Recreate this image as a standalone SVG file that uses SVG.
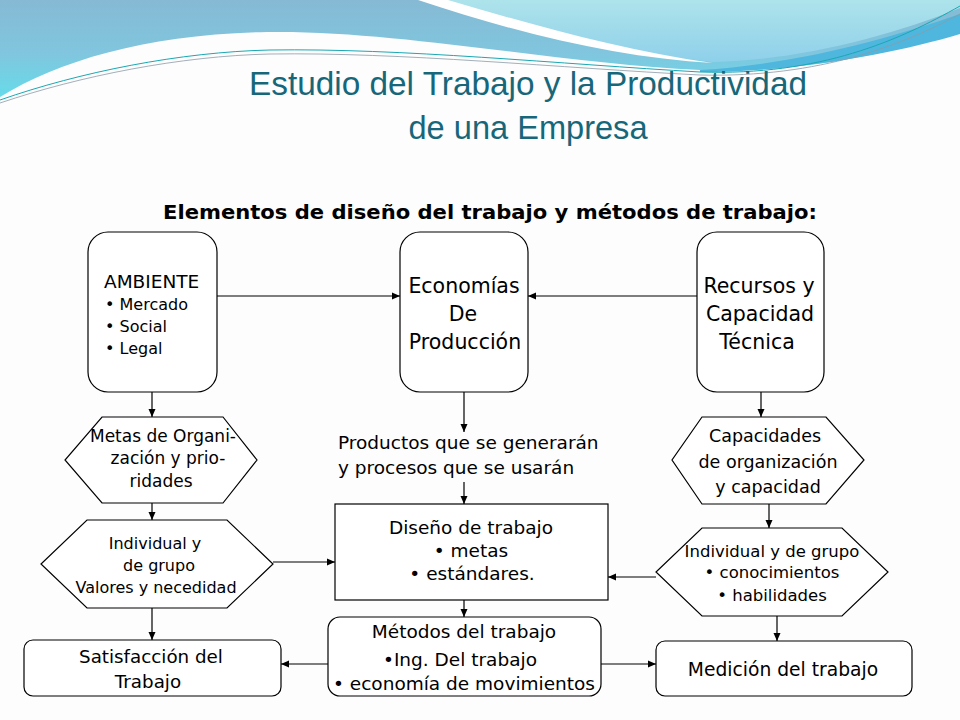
<svg xmlns="http://www.w3.org/2000/svg" width="960" height="720" viewBox="0 0 960 720">
<defs>
<style>
.box{fill:#fff;stroke:#000;stroke-width:1.2}
.ln{fill:none;stroke:#000;stroke-width:1.2;marker-end:url(#ah)}
text{font-family:"DejaVu Sans","Liberation Sans",sans-serif;fill:#000}
.c{text-anchor:middle}
.title{font-family:"Liberation Sans",Arial,sans-serif;font-size:33px;fill:#17677a;text-anchor:middle}
.sub{font-weight:bold;font-size:19px}
</style>
<marker id="ah" markerUnits="userSpaceOnUse" markerWidth="9" markerHeight="8" refX="8" refY="4" orient="auto">
<path d="M0,0.5 L8,4 L0,7.5 z" fill="#000"/>
</marker>
<linearGradient id="gBlue" x1="0" y1="0" x2="0" y2="1">
<stop offset="0" stop-color="#86b9d4"/>
<stop offset="0.55" stop-color="#80c6de"/>
<stop offset="1" stop-color="#66dbea"/>
</linearGradient>
<linearGradient id="gLight" x1="0" y1="0" x2="0" y2="1">
<stop offset="0" stop-color="#aee3ea"/>
<stop offset="1" stop-color="#8fd0ea"/>
</linearGradient>
</defs>
<rect width="960" height="720" fill="#fdfdfd"/>
<g id="background">
<path d="M0,0 H960 V30 C900,52 800,74 700,70 C560,64 400,30 267,32 C150,34 60,60 0,97 Z" fill="url(#gBlue)"/>
<path d="M440,0 H960 V8 C890,36 800,60 713,62 C620,52 530,26 440,0 Z" fill="url(#gLight)"/>
<path d="M418,0 C520,34 620,58 713,63 C620,50 530,24 448,0 Z" fill="#ffffff"/>
<path d="M700,70 C800,64 890,38 960,14 V34 C900,52 800,72 700,72 Z" fill="#4fb7de"/>
<path d="M0,100 C80,72 180,52 270,50 C400,48 560,64 700,72 C820,76 900,40 960,6" fill="none" stroke="#1aa8b4" stroke-width="1"/>
<path d="M0,103 C80,76 180,56 270,54 C400,52 560,68 700,75 C820,78 905,44 960,14" fill="none" stroke="#8a9aa8" stroke-width="0.8"/>
</g>
<g id="title">
<text class="title" x="528" y="95" textLength="558" lengthAdjust="spacingAndGlyphs">Estudio del Trabajo y la Productividad</text>
<text class="title" x="528" y="139" textLength="239" lengthAdjust="spacingAndGlyphs">de una Empresa</text>
<text class="sub" x="163" y="219" textLength="654" lengthAdjust="spacingAndGlyphs">Elementos de diseño del trabajo y métodos de trabajo:</text>
</g>
<g id="connectors">
<path class="ln" d="M217,296 H400"/>
<path class="ln" d="M697,296 H528"/>
<path class="ln" d="M152,392 V417"/>
<path class="ln" d="M152,503 V520"/>
<path class="ln" d="M152,608 V640"/>
<path class="ln" d="M273,562 H335"/>
<path class="ln" d="M464,392 V432"/>
<path class="ln" d="M464,482 V504"/>
<path class="ln" d="M464,600 V617"/>
<path class="ln" d="M328,664 H281"/>
<path class="ln" d="M601,664 H656"/>
<path class="ln" d="M761,392 V417"/>
<path class="ln" d="M769,504 V528"/>
<path class="ln" d="M656,577 H608"/>
<path class="ln" d="M777,616 V641"/>
</g>
<g id="ambiente">
<rect class="box" x="88" y="232" width="129" height="160" rx="20"/>
<text x="104" y="288" font-size="18.5">AMBIENTE</text>
<text x="105" y="310" font-size="16">• Mercado</text>
<text x="105" y="332" font-size="16">• Social</text>
<text x="105" y="354" font-size="16">• Legal</text>
</g>
<g id="economias">
<rect class="box" x="400" y="232" width="128" height="160" rx="20"/>
<text class="c" x="464" y="293" font-size="20.5">Economías</text>
<text class="c" x="463" y="321" font-size="20.5">De</text>
<text class="c" x="465" y="349" font-size="20.5">Producción</text>
</g>
<g id="recursos">
<rect class="box" x="697" y="232" width="127" height="160" rx="20"/>
<text class="c" x="759" y="293" font-size="20.5">Recursos y</text>
<text class="c" x="760" y="321" font-size="20.5">Capacidad</text>
<text class="c" x="757" y="349" font-size="20.5">Técnica</text>
</g>
<g id="metas">
<polygon class="box" points="102,417 223,417 257,460 223,503 102,503 65,460"/>
<text class="c" x="163" y="442" font-size="17">Metas de Organi-</text>
<text class="c" x="168" y="464" font-size="17">zación y prio-</text>
<text class="c" x="161" y="487" font-size="17">ridades</text>
</g>
<g id="productos">
<text x="338" y="449" font-size="18.5">Productos que se generarán</text>
<text x="338" y="474" font-size="18.5">y procesos que se usarán</text>
</g>
<g id="capacidades">
<polygon class="box" points="702,417 826,417 864,460 826,504 702,504 672,460"/>
<text class="c" x="765" y="442" font-size="17.5">Capacidades</text>
<text class="c" x="768" y="468" font-size="17.5">de organización</text>
<text class="c" x="768" y="493" font-size="17.5">y capacidad</text>
</g>
<g id="individual-valores">
<polygon class="box" points="87,520 227,520 273,564 227,608 87,608 41,564"/>
<text class="c" x="155" y="549" font-size="16">Individual y</text>
<text class="c" x="159" y="571" font-size="16">de grupo</text>
<text class="c" x="156" y="593" font-size="16">Valores y necedidad</text>
</g>
<g id="diseno">
<rect class="box" x="335" y="504" width="273" height="96"/>
<text class="c" x="471" y="534" font-size="18.5">Diseño de trabajo</text>
<text class="c" x="471" y="557" font-size="18.5">• metas</text>
<text class="c" x="472" y="580" font-size="18.5">• estándares.</text>
</g>
<g id="individual-conocimientos">
<polygon class="box" points="702,528 842,528 888,572 842,616 702,616 656,572"/>
<text class="c" x="772" y="557" font-size="16.5">Individual y de grupo</text>
<text class="c" x="772" y="578" font-size="16.5">• conocimientos</text>
<text class="c" x="772" y="601" font-size="16.5">• habilidades</text>
</g>
<g id="satisfaccion">
<rect class="box" x="24" y="640" width="257" height="56" rx="9"/>
<text class="c" x="151" y="663" font-size="18.3">Satisfacción del</text>
<text class="c" x="148" y="688" font-size="18.3">Trabajo</text>
</g>
<g id="metodos">
<rect class="box" x="328" y="617" width="273" height="79" rx="12"/>
<text class="c" x="464" y="638" font-size="18.5">Métodos del trabajo</text>
<text class="c" x="460" y="666" font-size="18.5">•Ing. Del trabajo</text>
<text class="c" x="464" y="690" font-size="18.5">• economía de movimientos</text>
</g>
<g id="medicion">
<rect class="box" x="656" y="641" width="256" height="55" rx="9"/>
<text class="c" x="783" y="676" font-size="18.7">Medición del trabajo</text>
</g>
</svg>
